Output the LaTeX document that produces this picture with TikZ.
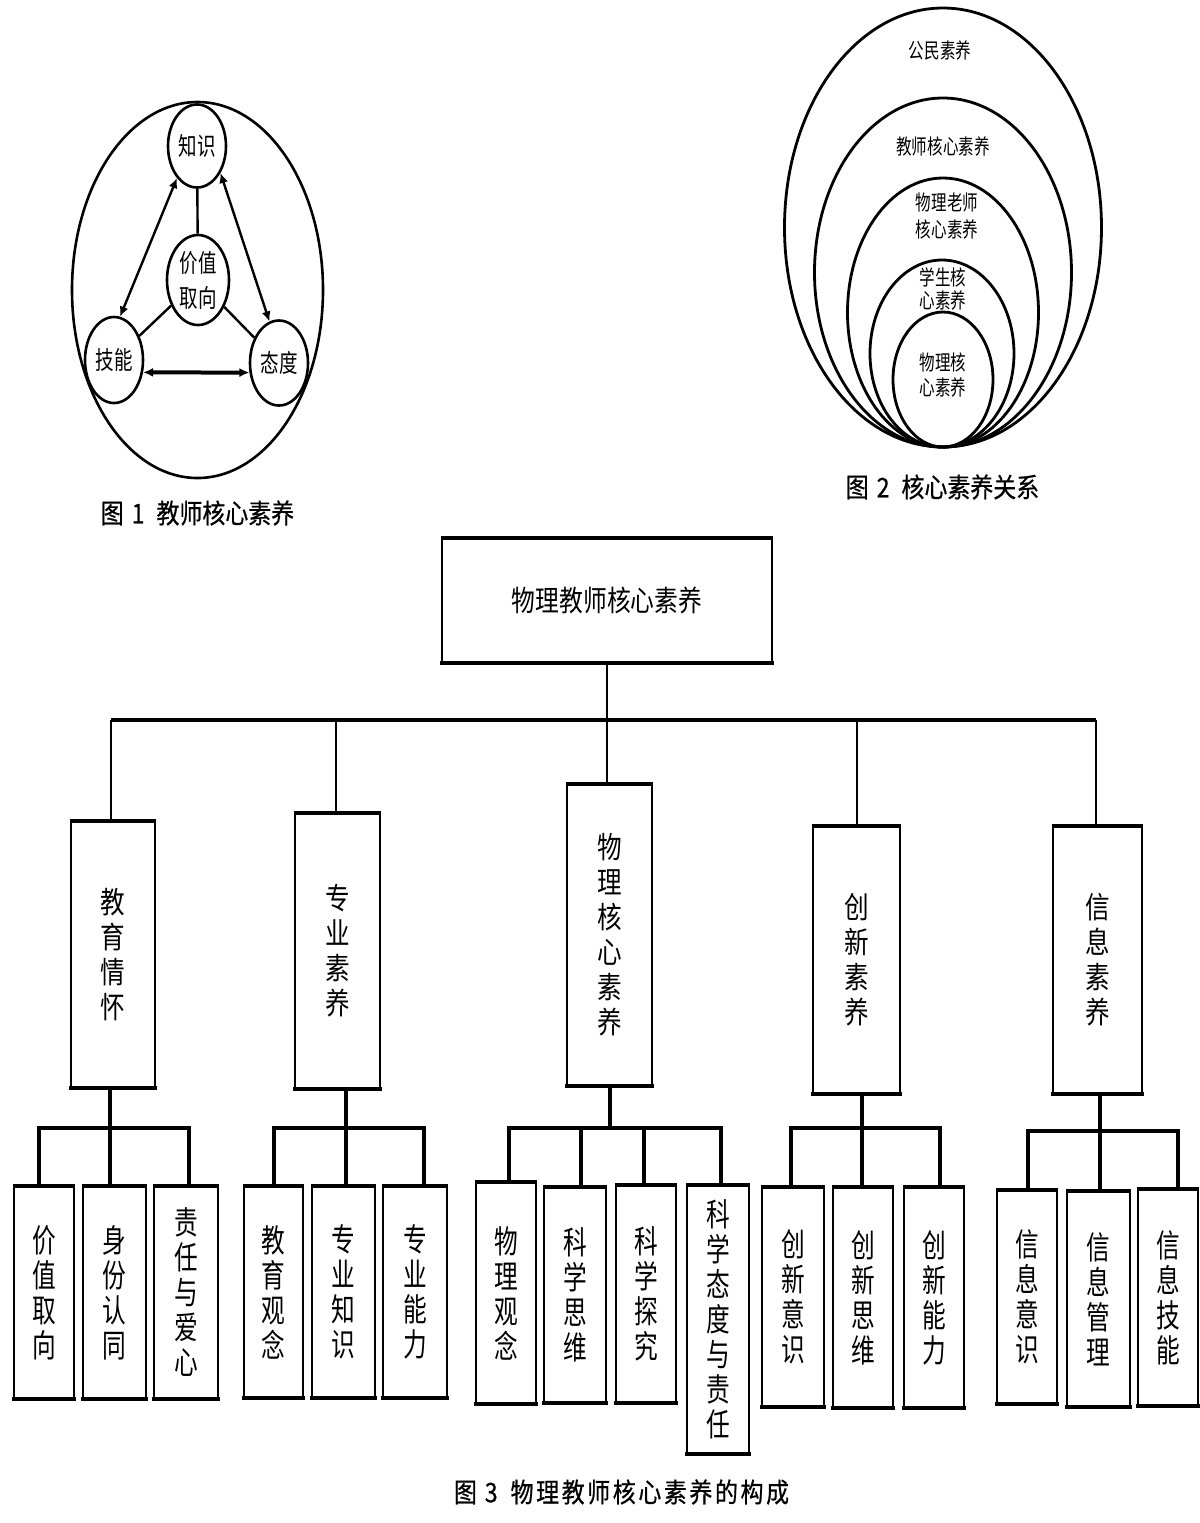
\documentclass[tikz,border=0pt]{standalone}
\usepackage{fontspec}
\usetikzlibrary{shapes.geometric,arrows.meta}
\newfontfamily\cjkA{Noto Sans CJK SC}[FakeStretch=0.82]
\newfontfamily\cjkB{Noto Sans CJK SC}[FakeStretch=0.74]
\newfontfamily\cjkC{Noto Sans CJK SC}[FakeStretch=0.85,FakeBold=0.6]
\newcommand\spc{\kern1.3pt}
\newcommand\tbox[7]{%
  \pgfmathsetmacro\bxw{(#4-#2)/2}%
  \pgfmathsetmacro\bxh{(#5-#3)/2}%
  \node[tb,#6,minimum width=\bxw pt,minimum height=\bxh pt] (#1) at ({(#2+#4)/2},{(#3+#5)/2}) {#7};
  \draw[tbedge] (#1.north west) -- (#1.north east) (#1.south west) -- (#1.south east);}
\begin{document}
\begin{tikzpicture}[x=0.5pt,y=-0.5pt,
  tb/.style={draw,line width=1.1pt,inner sep=0pt,align=center},
  tbedge/.style={line width=2.2pt,shorten <=-0.55pt,shorten >=-0.55pt},
  lv1/.style={font=\cjkA\fontsize{14.5pt}{17.5pt}\selectfont},
  lv2/.style={font=\cjkA\fontsize{15pt}{17.5pt}\selectfont},
  lv3/.style={font=\cjkB\fontsize{16pt}{17.5pt}\selectfont},
  conn1/.style={line width=1pt},
  bus1/.style={line width=1.8pt},
  conn2/.style={line width=1.3pt},
  conn3/.style={line width=1.7pt,line join=miter},
  ell/.style={draw,ellipse,line width=1.3pt,inner sep=0pt,align=center,
    font=\cjkB\fontsize{12.5pt}{17.5pt}\selectfont},
  ring/.style={draw,ellipse,line width=1.4pt,inner sep=0pt},
  f1line/.style={line width=1.2pt},
  f1arr/.style={line width=1.2pt,{Latex[length=5pt,width=4.5pt]}-{Latex[length=5pt,width=4.5pt]}},
  t2/.style={align=center,inner sep=0pt,font=\cjkB\fontsize{10.5pt}{13pt}\selectfont},
  capt/.style={inner sep=0pt,font=\cjkC\fontsize{13.5pt}{16pt}\selectfont}
]
\fill[white] (0,0) rectangle (1200,1523);
\useasboundingbox (0,0) rectangle (1200,1523);

% ---------------- Figure 1 ----------------
\node[ell,minimum width=125.5pt,minimum height=188pt] (f1) at (197.5,290) {};
\node[ell,minimum width=29pt,minimum height=41.5pt] (zs) at (197,146) {知识};
\node[ell,minimum width=31pt,minimum height=45pt] (jz) at (198,280) {价值\\取向};
\node[ell,minimum width=29pt,minimum height=43pt] (jn) at (114,360) {技能};
\node[ell,minimum width=29pt,minimum height=42.5pt] (td) at (279,363) {态度};
\draw[f1line] (zs) -- (jz);
\draw[f1line] (jz) -- (jn);
\draw[f1line] (jz) -- (td);
\draw[f1arr] (zs.238) -- (jn.82);
\draw[f1arr] (zs.311) -- (td.103);
\draw[f1arr,line width=2pt] (jn.-23) -- (td.198);
\node[capt] (cap1) at (197.5,513) {图\hspace{4pt}1\hspace{6pt}教师核心素养};

% ---------------- Figure 2 ----------------
\node[ring,minimum width=158.5pt,minimum height=219.5pt] (r1) at (943,227.5) {};
\node[ring,minimum width=128.5pt,minimum height=174.5pt] (r2) at (943,272.5) {};
\node[ring,minimum width=95.5pt,minimum height=134.5pt] (r3) at (943,312.5) {};
\node[ring,minimum width=72pt,minimum height=93.5pt] (r4) at (942,353.5) {};
\node[ring,minimum width=50pt,minimum height=67.5pt] (r5) at (943,379.5) {};
\node[t2] (s1) at (940,50) {公民素养};
\node[t2] (s2) at (943,146) {教师核心素养};
\node[t2,font=\cjkB\fontsize{10.5pt}{13.5pt}\selectfont] (s3) at (947,216.5) {物理老师\\核心素养};
\node[t2,font=\cjkB\fontsize{10.5pt}{11.5pt}\selectfont] (s4) at (943,288.5) {学生核\\心素养};
\node[t2,font=\cjkB\fontsize{10.5pt}{12.5pt}\selectfont] (s5) at (943,375.5) {物理核\\心素养};
\node[capt] (cap2) at (942.5,487) {图\hspace{4pt}2\hspace{6pt}核心素养关系};

% ---------------- Figure 3 ----------------
\tbox{top}{442}{539}{772}{662}{lv1}{物理教师核心素养}

\tbox{a}{71}{822}{155}{1087}{lv2}{教\\育\\情\\怀}
\tbox{b}{295}{814}{380}{1088}{lv2}{专\\业\\素\\养}
\tbox{c}{567}{785}{652}{1085}{lv2}{物\\理\\核\\心\\素\\养}
\tbox{d}{813}{827}{900}{1093}{lv2}{创\\新\\素\\养}
\tbox{e}{1053}{827}{1142}{1093}{lv2}{信\\息\\素\\养}

\tbox{a1}{14}{1187}{74}{1398}{lv3}{价\\值\\取\\向}
\tbox{a2}{83}{1187}{146}{1398}{lv3}{身\\份\\认\\同}
\tbox{a3}{154}{1187}{218}{1398}{lv3}{责\\任\\与\\爱\\心}
\tbox{b1}{244}{1187}{303}{1397}{lv3}{教\\育\\观\\念}
\tbox{b2}{312}{1187}{375}{1397}{lv3}{专\\业\\知\\识}
\tbox{b3}{383}{1187}{447}{1397}{lv3}{专\\业\\能\\力}
\tbox{c1}{476}{1183}{536}{1403}{lv3}{物\\理\\观\\念}
\tbox{c2}{544}{1188}{606}{1402}{lv3}{科\\学\\思\\维}
\tbox{c3}{616}{1186}{676}{1402}{lv3}{科\\学\\探\\究}
\tbox{c4}{687}{1186}{749}{1453}{lv3}{科\\学\\态\\度\\与\\责\\任}
\tbox{d1}{762}{1188}{824}{1406}{lv3}{创\\新\\意\\识}
\tbox{d2}{833}{1188}{893}{1407}{lv3}{创\\新\\思\\维}
\tbox{d3}{904}{1188}{964}{1407}{lv3}{创\\新\\能\\力}
\tbox{e1}{997}{1191}{1057}{1403}{lv3}{信\\息\\意\\识}
\tbox{e2}{1067}{1192}{1130}{1406}{lv3}{信\\息\\管\\理}
\tbox{e3}{1138}{1190}{1198}{1405}{lv3}{信\\息\\技\\能}

% top-level connectors
\coordinate (k0) at (607,720);
\coordinate (ka) at (111,720);
\coordinate (kb) at (336,720);
\coordinate (kd) at (857,720);
\coordinate (ke) at (1096,720);
\draw[conn1] (top.south) -- (k0);
\draw[bus1] (ka) -- (ke);
\draw[conn2] (ka) -- (a.north -| ka);
\draw[conn2] (kb) -- (b.north -| kb);
\draw[conn2] (k0) -- (c.north -| k0);
\draw[conn2] (kd) -- (d.north -| kd);
\draw[conn2] (ke) -- (e.north -| ke);

% group a
\coordinate (ga1) at (39,1128);
\coordinate (ga2) at (110,1128);
\coordinate (ga3) at (189,1128);
\draw[conn3] (a.south -| ga2) -- (ga2);
\draw[conn3] (a1.north -| ga1) -- (ga1) -- (ga3) -- (a3.north -| ga3);
\draw[conn3] (ga2) -- (a2.north -| ga2);
% group b
\coordinate (gb1) at (274,1128);
\coordinate (gb2) at (346,1128);
\coordinate (gb3) at (424,1128);
\draw[conn3] (b.south -| gb2) -- (gb2);
\draw[conn3] (b1.north -| gb1) -- (gb1) -- (gb3) -- (b3.north -| gb3);
\draw[conn3] (gb2) -- (b2.north -| gb2);
% group c
\coordinate (gcp) at (610,1128);
\coordinate (gc1) at (509,1128);
\coordinate (gc2) at (581,1128);
\coordinate (gc3) at (644,1128);
\coordinate (gc4) at (721,1128);
\draw[conn3] (c.south -| gcp) -- (gcp);
\draw[conn3] (c1.north -| gc1) -- (gc1) -- (gc4) -- (c4.north -| gc4);
\draw[conn3] (gc2) -- (c2.north -| gc2);
\draw[conn3] (gc3) -- (c3.north -| gc3);
% group d
\coordinate (gd1) at (791,1128);
\coordinate (gd2) at (862,1128);
\coordinate (gd3) at (940,1128);
\draw[conn3] (d.south -| gd2) -- (gd2);
\draw[conn3] (d1.north -| gd1) -- (gd1) -- (gd3) -- (d3.north -| gd3);
\draw[conn3] (gd2) -- (d2.north -| gd2);
% group e
\coordinate (ge1) at (1028,1131);
\coordinate (ge2) at (1100,1131);
\coordinate (ge3) at (1178,1131);
\draw[conn3] (e.south -| ge2) -- (ge2);
\draw[conn3] (e1.north -| ge1) -- (ge1) -- (ge3) -- (e3.north -| ge3);
\draw[conn3] (ge2) -- (e2.north -| ge2);

\node[capt] (cap3) at (621.5,1492) {图\hspace{4pt}3\hspace{6.5pt}物\spc{}理\spc{}教\spc{}师\spc{}核\spc{}心\spc{}素\spc{}养\spc{}的\spc{}构\spc{}成};
\end{tikzpicture}
\end{document}
